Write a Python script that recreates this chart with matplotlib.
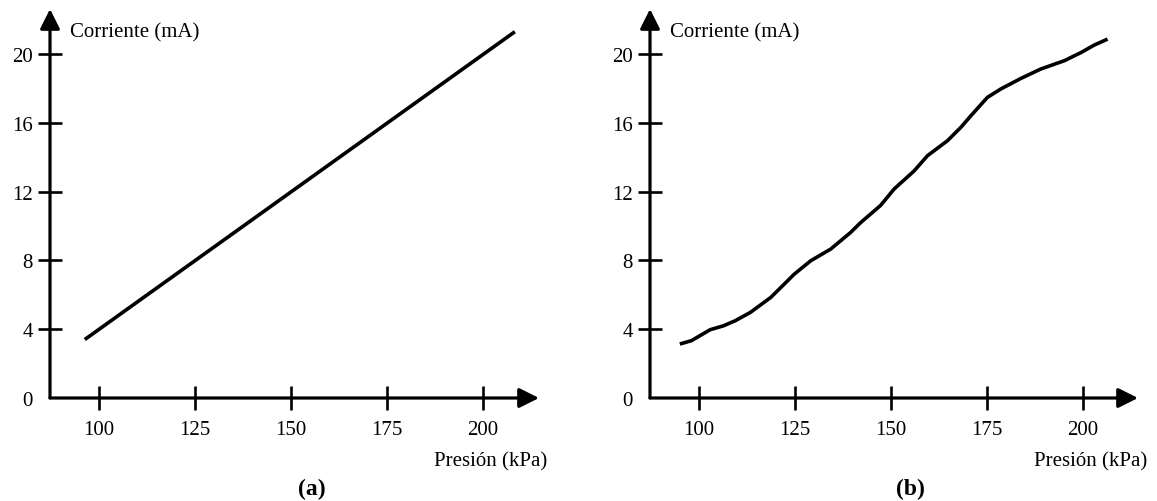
import numpy as np
import matplotlib
matplotlib.use("Agg")
import matplotlib.pyplot as plt

plt.rcParams['font.family'] = ['Liberation Serif', 'DejaVu Serif']

# (a) ideal linear transmitter
pressure_a = [96.3, 208.3]
current_a = [3.4, 21.3]

pressure_b = [95.0, 98.0, 102.9, 106.4, 109.5, 113.4, 118.7, 124.8, 129.1, 134.3,
              139.5, 142.1, 147.3, 150.8, 156.0, 159.5, 164.7, 168.2, 170.8, 175.1,
              178.6, 183.8, 189.0, 195.1, 199.5, 202.9, 206.4]
current_b = [3.14, 3.33, 3.97, 4.2, 4.5, 4.98, 5.85, 7.2, 7.98, 8.66,
             9.63, 10.2, 11.2, 12.15, 13.2, 14.09, 14.96, 15.74, 16.41, 17.48,
             17.97, 18.58, 19.13, 19.61, 20.09, 20.52, 20.87]

xticks = [100, 125, 150, 175, 200]
yticks = [0, 4, 8, 12, 16, 20]
xlim = (87.24, 214.6)
ylim = (0, 22.62)

W, H = 1157, 502
fig = plt.figure(figsize=(W / 100, H / 100), dpi=100)

lw = 2.3
fs = 15
arrow = '-|>,head_length=0.6,head_width=0.3'


def panel(left_px, right_px, x, y, tag, tag_x):
    ax = fig.add_axes([left_px / W, (H - 399) / H, (right_px - left_px) / W, 389 / H])
    ax.set_xlim(xlim[0], xlim[0] + (right_px - left_px) / 3.84)
    ax.set_ylim(*ylim)
    ax.plot(x, y, color='black', lw=2.6, solid_capstyle='butt', solid_joinstyle='round')
    for s in ['top', 'right', 'left', 'bottom']:
        ax.spines[s].set_visible(False)
    # axis lines with arrow heads
    ax.annotate('', xy=(1, 0), xytext=(0, 0), xycoords='axes fraction',
                arrowprops=dict(arrowstyle=arrow, lw=lw, color='black',
                                mutation_scale=20, shrinkA=0, shrinkB=0))
    ax.annotate('', xy=(0, 1), xytext=(0, 0), xycoords='axes fraction',
                arrowprops=dict(arrowstyle=arrow, lw=lw, color='black',
                                mutation_scale=20, shrinkA=0, shrinkB=0))
    ax.set_xticks(xticks)
    ax.set_yticks(yticks)
    ax.tick_params(direction='inout', length=17, width=1.9, labelsize=fs, color='black')
    ax.tick_params(axis='x', pad=7)
    ax.tick_params(axis='y', pad=4)
    ax.yaxis.get_major_ticks()[0].tick1line.set_visible(False)
    ax.text(92.4, 21.28, 'Corriente (mA)', fontsize=fs, va='center', ha='left')
    ax.text(216.8, -3.66, 'Presión (kPa)', fontsize=fs, va='center', ha='right',
            clip_on=False)
    fig.text(tag_x / W, 1 - 489 / H, tag, fontsize=17, fontweight='bold',
             ha='center', va='center')
    return ax


panel(50, 539, pressure_a, current_a, '(a)', 312)
panel(650, 1138, pressure_b, current_b, '(b)', 910)

fig.savefig('out.png', dpi=100)
